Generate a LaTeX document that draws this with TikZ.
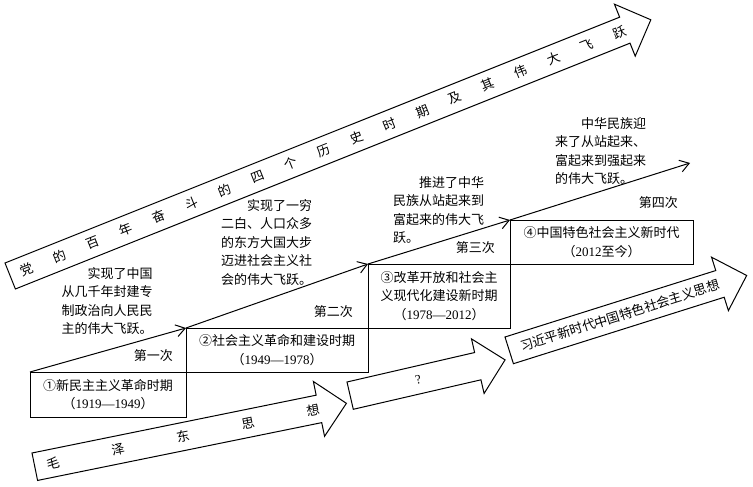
\documentclass[tikz,border=0pt]{standalone}
\usepackage{fontspec}
\setmainfont{Liberation Serif}
\newfontfamily\cjk{Noto Sans CJK SC}
\usepackage{tikz}
\usetikzlibrary{arrows.meta,positioning}

\tikzset{
	period/.style={draw, line width=1pt, inner sep=0pt, outer sep=0pt, align=center, font=\cjk\fontsize{13}{18.5}\selectfont},
	leap/.style={line width=1pt, -{Straight Barb[length=9pt,width=12pt]}},
	times/.style={inner sep=0pt, font=\cjk\fontsize{13}{15}\selectfont},
	note/.style={inner sep=0pt, anchor=north west, align=left, font=\cjk\fontsize{13}{18.5}\selectfont},
	band/.style={draw, line width=1pt},
	bandtext/.style={inner sep=0pt, font=\cjk\fontsize{13}{15}\selectfont}
}
\newcommand{\hollowarrow}[1]{\draw[band] (0,0) -- (#1,0) -- (#1,-14) -- ({#1+28},14) -- (#1,42) -- (#1,28) -- (0,28) -- cycle;}

\begin{document}
\begin{tikzpicture}[x=1pt,y=-1pt]
	\useasboundingbox (0,0) rectangle (753,487);
	\begin{scope}[shift={(5,263)},rotate=21.8,transform shape]
		\hollowarrow{662}
		\foreach \zi [count=\i from 0] in {党,的,百,年,奋,斗,的,四,个,历,史,时,期,及,其,伟,大,飞,跃}
			\node[bandtext] (top\i) at ({17.8+35.5*\i},14) {\zi};
	\end{scope}
	\begin{scope}[shift={(32,453)},rotate=11.5,transform shape]
		\hollowarrow{290}
		\foreach \zi [count=\i from 0] in {毛,泽,东,思,想}
			\node[bandtext] (mao\i) at ({18.6+66.3*\i},14) {\zi};
	\end{scope}
	\begin{scope}[shift={(347,382)},rotate=13,transform shape]
		\hollowarrow{131}
		\node[bandtext] (ask) at (70,14) {\rmfamily ?};
	\end{scope}
	\begin{scope}[shift={(505,337)},rotate=17.5,transform shape]
		\hollowarrow{221}
		\node[bandtext] (xi) at (116,14) {习近平新时代中国特色社会主义思想};
	\end{scope}
	\node[period, minimum width=156pt, minimum height=45pt] (b1) at (108,394.5) {①新民主主义革命时期\\（{\rmfamily 1919—1949}）};
	\node[period, minimum width=182pt, minimum height=44pt, anchor=south west] (b2) at (b1.north east) {②社会主义革命和建设时期\\（{\rmfamily 1949—1978}）};
	\node[period, minimum width=142pt, minimum height=64pt, anchor=south west] (b3) at (b2.north east) {③改革开放和社会主\\义现代化建设新时期\\（{\rmfamily 1978—2012}）};
	\node[period, minimum width=183pt, minimum height=44pt, anchor=south west] (b4) at (b3.north east) {④中国特色社会主义新时代\\（{\rmfamily 2012}至今）};
	\coordinate (up) at (690,163);
	\draw[leap] (b1.north west) -- (b2.north west);
	\draw[leap] (b2.north west) -- (b3.north west);
	\draw[leap] (b3.north west) -- (b4.north west);
	\draw[leap] (b4.north west) -- (up);
	\node[times, above left=10pt and 13pt of b2.south west] (k1) {第一次};
	\node[times, above left=10pt and 15pt of b3.south west] (k2) {第二次};
	\node[times, above left=10pt and 15pt of b4.south west] (k3) {第三次};
	\node[times, above left=11pt and 15pt of b4.north east] (k4) {第四次};
	\node[note] (n1) at (61.5,267) {\hspace*{2em}实现了中国\\从几千年封建专\\制政治向人民民\\主的伟大飞跃。};
	\node[note] (n2) at (221,199) {\hspace*{2em}实现了一穷\\二白、人口众多\\的东方大国大步\\迈进社会主义社\\会的伟大飞跃。};
	\node[note] (n3) at (393,176) {\hspace*{2em}推进了中华\\民族从站起来到\\富起来的伟大飞\\跃。};
	\node[note] (n4) at (555,117) {\hspace*{2em}中华民族迎\\来了从站起来、\\富起来到强起来\\的伟大飞跃。};
\end{tikzpicture}
\end{document}
